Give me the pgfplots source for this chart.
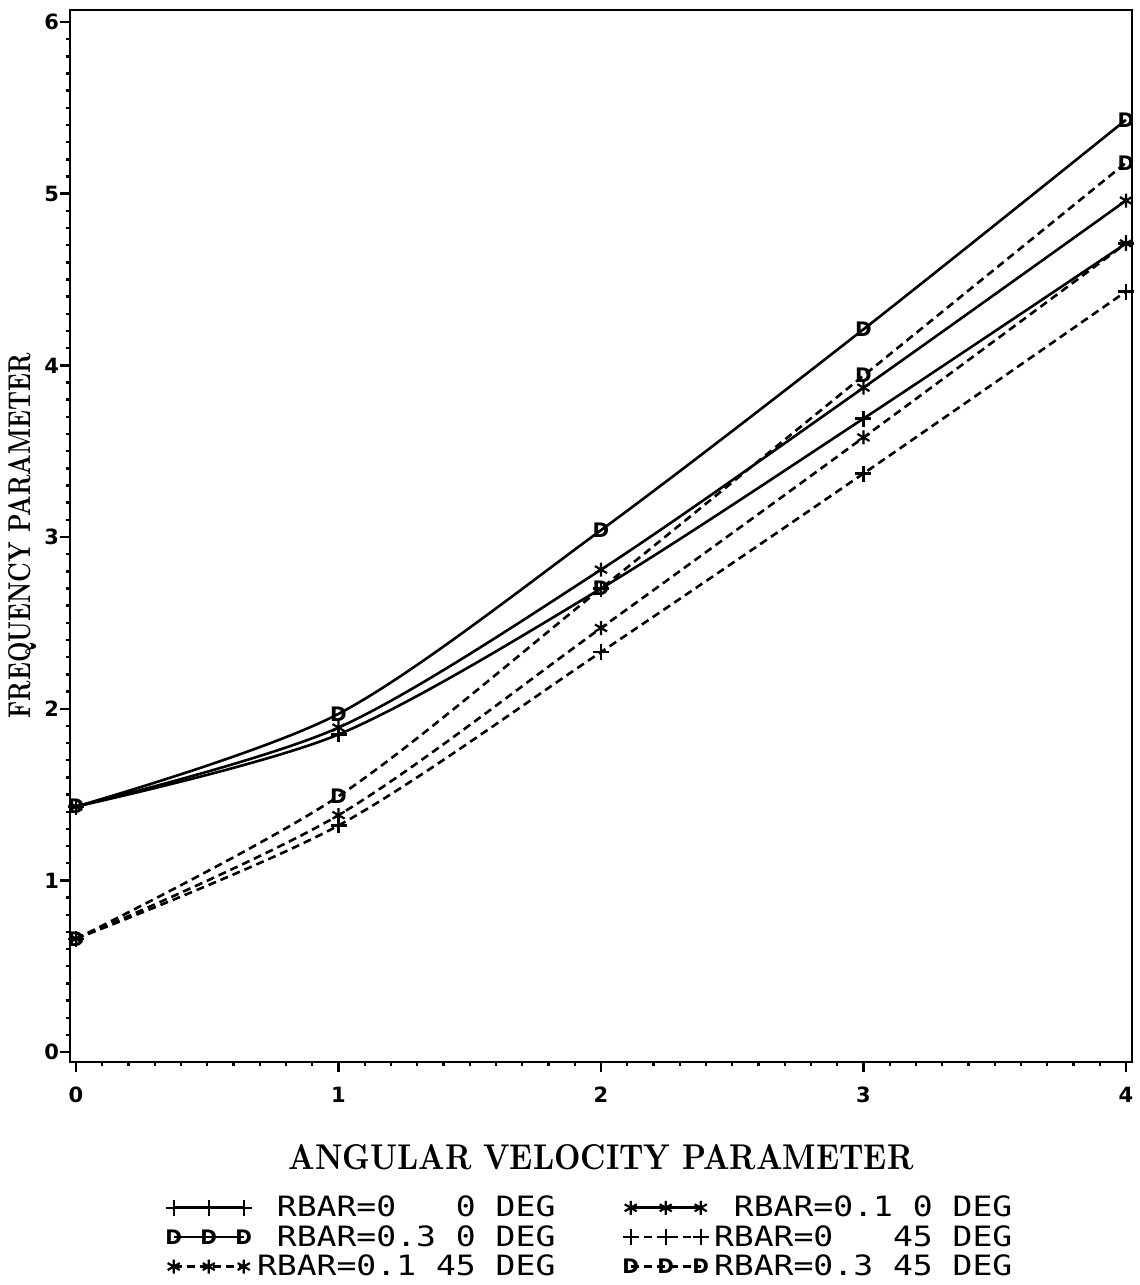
\documentclass[border=0pt]{standalone}
\usepackage{fontspec}
\usepackage{graphicx}
\usepackage{pgfplots}
\pgfplotsset{compat=1.18}
\usetikzlibrary{plotmarks}
\newfontfamily\legfont{DejaVu Sans Mono}[FakeStretch=1.18]
\newfontfamily\tickfont{DejaVu Sans}

\pgfplotstableread{
x  s00  s01  s03  d00  d01  d03
0  1.43 1.43 1.43 0.66 0.66 0.66
1  1.85 1.89 1.97 1.32 1.38 1.49
2  2.70 2.81 3.04 2.33 2.47 2.70
3  3.69 3.87 4.21 3.37 3.58 3.94
4  4.71 4.96 5.43 4.43 4.71 5.18
}\datatable

\begin{document}
\begin{tikzpicture}
\begin{axis}[
  scale only axis,
  width=531pt, height=526pt,
  xmin=-0.023, xmax=4.023, ymin=-0.058, ymax=6.07,
  xtick={0,1,2,3,4}, ytick={0,1,2,3,4,5,6},
  minor x tick num=9, minor y tick num=9,
  tick align=outside,
  xtick pos=bottom, ytick pos=left,
  major tick length=5pt, minor tick length=2.2pt,
  axis line style={line width=1.4pt},
  every tick/.style={line width=1.2pt, black},
  /pgf/number format/assume math mode=true,
  ticklabel style={font=\tickfont\bfseries\fontsize{10.5}{12}\selectfont},
  xticklabel style={yshift=-4pt},
  yticklabel style={xshift=3pt},
  xlabel={\resizebox{312.5pt}{12.5pt}{\bfseries ANGULAR VELOCITY PARAMETER}},
  xlabel style={at={(axis description cs:0.5,-0.0903)}, anchor=center},
  ylabel={\resizebox{182.5pt}{11pt}{\bfseries FREQUENCY PARAMETER}},
  ylabel style={at={(axis description cs:-0.0443,0.5)}, anchor=center},
  legend columns=2,
  legend cell align=left,
  legend style={draw=none, fill=none, inner sep=0pt,
    font=\legfont\fontsize{14}{14}\selectfont,
    at={(axis description cs:0.0895,-0.125)}, anchor=north west,
    row sep=0.8pt,
    nodes={inner sep=1pt},
    /tikz/every odd column/.append style={column sep=1.5pt},
    /tikz/every even column/.append style={column sep=32.5pt}},
  legend image code/.code={\draw[#1] plot coordinates {(0pt,0pt) (17.5pt,0pt) (35pt,0pt)};},
  every axis plot/.append style={line width=1.3pt, black, smooth},
  mark options={solid, line width=1.1pt},
]
\addplot[mark=+, mark size=4pt] table[x=x, y=s00] {\datatable};
\addlegendentry{\ RBAR=0\ \ \ 0 DEG}
\addplot[mark=asterisk, mark size=3.5pt] table[x=x, y=s01] {\datatable};
\addlegendentry{\ RBAR=0.1 0 DEG}
\addplot[mark=text, text mark={\tickfont\bfseries\fontsize{10}{10}\selectfont D}] table[x=x, y=s03] {\datatable};
\addlegendentry{\ RBAR=0.3 0 DEG}
\addplot[dash pattern=on 4pt off 2.5pt, mark=+, mark size=4pt] table[x=x, y=d00] {\datatable};
\addlegendentry{RBAR=0\ \ \ 45 DEG}
\addplot[dash pattern=on 4pt off 2.5pt, mark=asterisk, mark size=3.5pt] table[x=x, y=d01] {\datatable};
\addlegendentry{RBAR=0.1 45 DEG}
\addplot[dash pattern=on 4pt off 2.5pt, mark=text, text mark={\tickfont\bfseries\fontsize{10}{10}\selectfont D}] table[x=x, y=d03] {\datatable};
\addlegendentry{RBAR=0.3 45 DEG}
\end{axis}
\pgfresetboundingbox
\path[use as bounding box] ([shift={(-35pt,-111.5pt)}]current axis.south west) rectangle ([shift={(4pt,5pt)}]current axis.north east);
\end{tikzpicture}
\end{document}
